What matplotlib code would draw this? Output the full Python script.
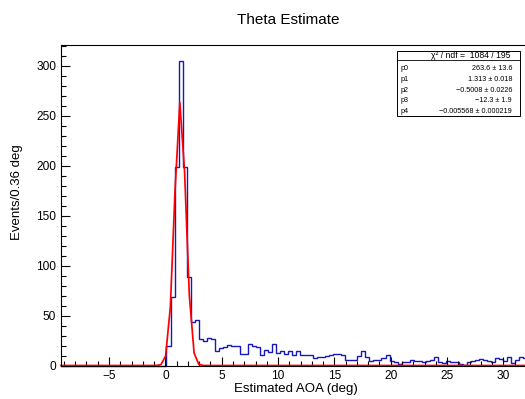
import numpy as np
import matplotlib.pyplot as plt
from matplotlib.ticker import MultipleLocator

plt.rcParams['font.family'] = ['Liberation Sans', 'DejaVu Sans']

# histogram: 116 bins of 0.36 deg starting at -9.26 deg
bin_lo = -9.26
bin_width = 0.36
counts = ([0] * 26 +
          [20, 69, 199, 305, 199, 89, 44, 46, 27, 25, 28, 27,
           15, 18, 19, 21, 20, 20, 12, 12, 22, 20, 19, 11, 16, 14, 22, 13,
           15, 12, 15, 11, 15, 11,
           11, 11, 8, 9, 9, 10, 11, 12, 12, 11, 6, 6, 6, 10, 15, 9, 5, 6, 6,
           8, 11, 5, 4, 2, 4, 4, 6,
           5, 5, 4, 5, 6, 9, 4, 3, 5, 4, 4, 2, 1, 4, 5, 6, 7, 6, 5, 4,
           8, 7, 5, 9, 3, 6, 9, 8, 6])

# fit parameters (gaus + expo) from the stats box
par_names = ['p0', 'p1', 'p2', 'p3', 'p4']
par_vals = [263.6, 1.313, -0.5008, -12.3, -0.005568]
par_text = ['263.6 \u00b1 13.6', '1.313 \u00b1 0.018', '\u22120.5008 \u00b1 0.0226',
            '\u221212.3 \u00b1 1.9', '\u22120.005568 \u00b1 0.000219']
chi2_text = '\u03c7\u00b2 / ndf =  1084 / 195'

edges = bin_lo + bin_width * np.arange(len(counts) + 1)

fig = plt.figure(figsize=(5.25, 3.99), dpi=100)
ax = fig.add_axes([61 / 525, 33.5 / 399, 470.6 / 525, 320.2 / 399])

ax.stairs(counts, edges, color='#1818b8', linewidth=1.0, clip_on=False)

p0, p1, p2, p3, p4 = par_vals
xf = np.linspace(edges[0], edges[-1], 100)
yf = p0 * np.exp(-0.5 * ((xf - p1) / p2) ** 2) + np.exp(p3 + p4 * xf)
ax.plot(xf, yf, color='#ff0000', linewidth=1.25, clip_on=False)

ax.set_xlim(edges[0], edges[-1])
ax.set_ylim(0, 1.05 * max(counts))

ax.xaxis.set_major_locator(MultipleLocator(5))
ax.xaxis.set_minor_locator(MultipleLocator(1))
ax.yaxis.set_major_locator(MultipleLocator(50))
ax.yaxis.set_minor_locator(MultipleLocator(10))
ax.tick_params(which='both', direction='in', labelsize=8.6, width=0.8)
ax.tick_params(which='major', length=6.5)
ax.tick_params(which='minor', length=3.5)
ax.tick_params(axis='x', pad=3)
for s in ax.spines.values():
    s.set_linewidth(0.8)

ax.set_xlabel('Estimated AOA (deg)', fontsize=9.5, labelpad=1)
fig.text(17 / 525, 1 - 192 / 399, 'Events/0.36 deg', rotation=90,
         fontsize=9.5, ha='center', va='center')
fig.text(288 / 525, 1 - 20 / 399, 'Theta Estimate', fontsize=11,
         ha='center', va='center')

# stats box
bx0, bx1 = 397 / 525, 520 / 525
by0, by1 = 1 - 115.5 / 399, 1 - 51 / 399
fig.patches.append(plt.Rectangle((bx0, by0), bx1 - bx0, by1 - by0,
                                 transform=fig.transFigure, fill=True,
                                 facecolor='white', edgecolor='black',
                                 linewidth=0.7))
sep = 1 - 60 / 399
fig.add_artist(plt.Line2D([bx0, bx1], [sep, sep], transform=fig.transFigure,
                          color='black', linewidth=0.6))
fig.text(471 / 525, 1 - 55.5 / 399, chi2_text, fontsize=6.2,
         ha='center', va='center')
row_y = [68.7, 79.5, 90.3, 101, 111.5]
for name, txt, yy in zip(par_names, par_text, row_y):
    fig.text(401 / 525, 1 - yy / 399, name, fontsize=5.2, ha='left', va='center')
    fig.text(512 / 525, 1 - yy / 399, txt, fontsize=5.2, ha='right', va='center')

fig.savefig('out.png', dpi=100)
